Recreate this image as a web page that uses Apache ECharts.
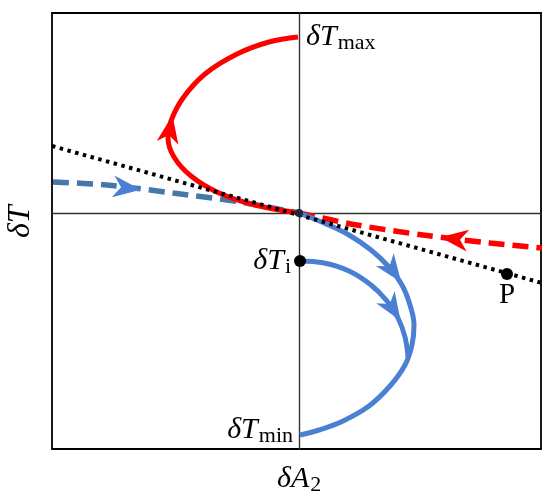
<!DOCTYPE html>
<html>
<head>
<meta charset="utf-8">
<script src="https://cdn.jsdelivr.net/npm/echarts@6/dist/echarts.min.js"></script>
<style>html,body{margin:0;padding:0;background:#fff;}#c{width:550px;height:504px;}</style>
</head>
<body>
<div id="c"></div>
<script>
// Data (arbitrary units; axes cross at 0,0)
const xRange = [-247, 242];
const yRange = [-236, 200];
const redSolid = [[-1,176],[-30,171],[-62,159],[-94,139],[-116,115],[-128,92],[-131,75],[-125,56],[-108,37],[-80,20],[-44,8],[0,0]];
const redDashed = [[0,0],[58,-12],[124,-22],[191,-30],[243,-35]];
const blueDashed = [[-246,31],[-192,28],[-126,20],[-59,11],[0,0]];
const dottedLine = [[-247,67],[243,-70]];
const blueOuter = [[0,0],[25,-10],[50,-22],[72,-37],[90,-54],[103,-72],[111,-92],[115,-112],[113,-132],[106,-152],[91,-173],[70,-193],[44,-208],[20,-217],[1,-222]];
const blueInner = [[1,-48],[25,-50],[50,-58],[72,-72],[88,-88],[99,-105],[106,-124],[109,-144]];
const arrowPts = [
  {curve:'redSolid', at:[-129,84], reverse:true, color:'#ff0000'},
  {curve:'redDashed', at:[155,-26], reverse:true, color:'#ff0000'},
  {curve:'blueDashed', at:[-172,25], reverse:false, color:'#4a7fd4'},
  {curve:'blueOuter', at:[94,-58], reverse:false, color:'#4a7fd4'},
  {curve:'blueInner', at:[94,-96], reverse:false, color:'#4a7fd4'}
];
const dotPi = [1,-48];
const dotP = [208,-61];
const origin = [0,0];
const labelMax = redSolid[0];
const labelMin = blueOuter[blueOuter.length-1];

const curves = {redSolid, redDashed, blueDashed, blueOuter, blueInner};
function dirAt(curve, p, reverse){
  let best = null, bd = Infinity;
  for (let i=0;i<curve.length-1;i++){
    const a=curve[i], b=curve[i+1];
    const mx=(a[0]+b[0])/2, my=(a[1]+b[1])/2;
    const d=(mx-p[0])**2+(my-p[1])**2;
    if(d<bd){bd=d;best=[b[0]-a[0], b[1]-a[1]];}
  }
  if (reverse) best=[-best[0],-best[1]];
  return Math.atan2(best[1],best[0])*180/Math.PI - 90;
}
const arrowData = arrowPts.map(a=>({value:a.at, symbolRotate:dirAt(curves[a.curve], a.at, a.reverse), itemStyle:{color:a.color, opacity:1}}));

const serif = 'Liberation Serif';
const txt = '#000';
const rich = {
  i:{fontFamily:serif, fontStyle:'italic', fontSize:30, color:txt},
  r:{fontFamily:serif, fontSize:29, color:txt},
  s:{fontFamily:serif, fontSize:22, color:txt, padding:[12,0,0,1]}
};

const chart = echarts.init(document.getElementById('c'));
chart.setOption({
  animation:false,
  grid:{left:52,right:9,top:13,bottom:55,show:true,borderColor:'#000',borderWidth:1.8,backgroundColor:'transparent'},
  xAxis:{type:'value',min:xRange[0],max:xRange[1],axisLabel:{show:false},axisTick:{show:false},splitLine:{show:false},
    axisLine:{show:true,onZero:true,lineStyle:{color:'#333',width:1.4}}},
  yAxis:{type:'value',min:yRange[0],max:yRange[1],axisLabel:{show:false},axisTick:{show:false},splitLine:{show:false},
    axisLine:{show:true,onZero:true,lineStyle:{color:'#333',width:1.4}}},
  graphic:[
    {type:'text',left:277,top:464,style:{rich:rich,text:'{i|δA}{s|2}'}},
    {type:'text',x:5,y:238,rotation:Math.PI/2,style:{rich:{i:{fontFamily:serif,fontStyle:'italic',fontSize:32,color:txt}},text:'{i|δT}'}}
  ],
  series:[
    {type:'line',data:dottedLine,showSymbol:false,lineStyle:{color:'#000',width:4,type:[3.5,4.5]},z:3},
    {type:'line',data:blueDashed,smooth:0.3,showSymbol:false,lineStyle:{color:'#4878a8',width:5.5,type:[16,8]},z:2},
    {type:'line',data:redDashed,smooth:0.3,showSymbol:false,lineStyle:{color:'#ff0000',width:5.5,type:[16,8]},z:2},
    {type:'line',data:redSolid,smooth:0.4,showSymbol:false,lineStyle:{color:'#ff0000',width:5},z:2},
    {type:'line',data:blueOuter,smooth:0.4,showSymbol:false,lineStyle:{color:'#4a7fd4',width:5},z:2},
    {type:'line',data:blueInner,smooth:0.4,showSymbol:false,lineStyle:{color:'#4a7fd4',width:5},z:2},
    {type:'scatter',data:arrowData,symbol:'path://M0,-12 L8,9 L0,3 L-8,9 Z',symbolSize:[22,28],z:4,itemStyle:{opacity:1}},
    {type:'scatter',z:5,symbolSize:12,itemStyle:{color:'#000',opacity:1},data:[
      {value:dotPi,label:{show:true,position:'left',distance:3,rich:rich,formatter:'{i|δT}{s|i}'}},
      {value:dotP,label:{show:true,position:'bottom',distance:1,rich:rich,formatter:'{r|P}'}}
    ]},
    {type:'scatter',z:5,symbolSize:8,itemStyle:{color:'#1a2a44',opacity:1},data:[origin]},
    {type:'scatter',z:5,symbolSize:0,itemStyle:{opacity:1},data:[
      {value:labelMax,label:{show:true,position:'right',distance:8,rich:rich,formatter:'{i|δT}{s|max}'}},
      {value:labelMin,label:{show:true,position:'left',distance:7,offset:[0,-5],rich:rich,formatter:'{i|δT}{s|min}'}}
    ]}
  ]
});
</script>
</body>
</html>
